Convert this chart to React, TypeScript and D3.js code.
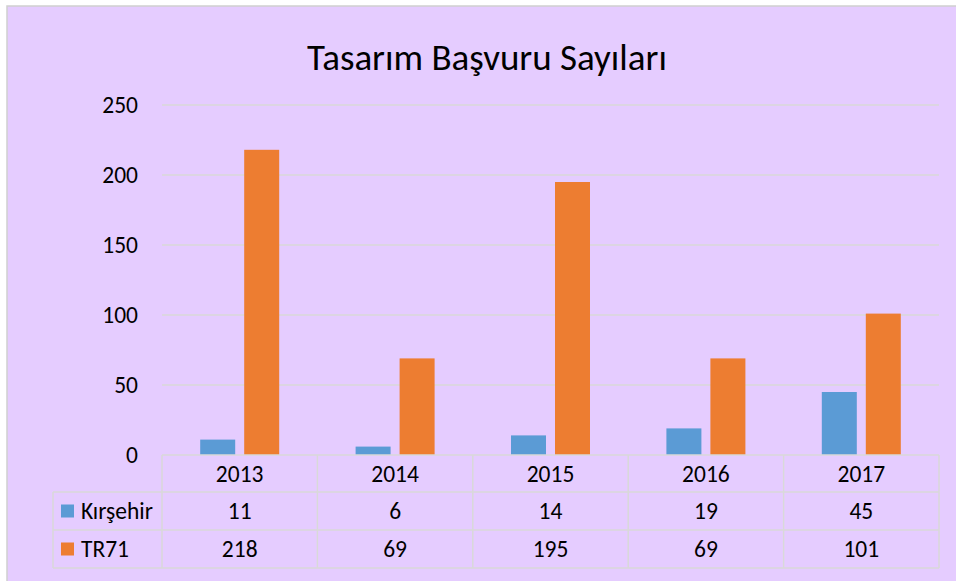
import React from "react";
import * as d3 from "d3";

const years = ["2013", "2014", "2015", "2016", "2017"];
const seriesNames = ["Kırşehir", "TR71"];
const kirsehir = [11, 6, 14, 19, 45];
const tr71 = [218, 69, 195, 69, 101];
const yTicks = [0, 50, 100, 150, 200, 250];
const colors = ["#5B9BD5", "#ED7D31"];

const W = 956;
const H = 581;
const FONT = "Carlito, Calibri, Lato, sans-serif";
const FS = 23.5;

export default function App() {
  const values = [kirsehir, tr71];

  const x = d3.scaleBand().domain(years).range([162, 939]).padding(0);
  const y = d3.scaleLinear().domain([0, 250]).range([455, 105]);
  const bw = x.bandwidth();
  const inner = d3
    .scaleBand()
    .domain(seriesNames)
    .range([(bw - 79) / 2, (bw + 79) / 2])
    .paddingInner(9 / 44)
    .paddingOuter(0);

  const rowY = [455, 492, 530, 568];
  const gridColor = "#D9D9D9";

  return (
    <svg width={W} height={H} style={{ position: "absolute", left: 0, top: 0, display: "block" }} fontFamily={FONT}>
      <rect x={0} y={0} width={W} height={H} fill="#fff" />
      <rect x={7} y={6} width={W} height={H} fill="#E5CCFF" stroke="#D0D0D0" strokeWidth={1.5} />

      <text x={487} y={70} textAnchor="middle" fontSize={37} fill="#000">
        Tasarım Başvuru Sayıları
      </text>

      {/* gridlines + y labels */}
      {yTicks.map((t) => (
        <g key={t}>
          {t > 0 && <line x1={162} x2={939} y1={y(t)} y2={y(t)} stroke={gridColor} strokeWidth={1.5} />}
          <text x={138} y={y(t)} dy="0.35em" textAnchor="end" fontSize={FS} fill="#000">
            {t}
          </text>
        </g>
      ))}

      {/* bars */}
      {years.map((yr, i) => (
        <g key={yr} transform={`translate(${x(yr)},0)`}>
          {seriesNames.map((s, j) => (
            <rect
              key={s}
              x={inner(s)}
              width={inner.bandwidth()}
              y={y(values[j][i])}
              height={y(0) - y(values[j][i])}
              fill={colors[j]}
            />
          ))}
        </g>
      ))}

      {/* data table */}
      <g stroke={gridColor} strokeWidth={1.5}>
        <line x1={162} x2={939} y1={rowY[0]} y2={rowY[0]} />
        {rowY.slice(1).map((ry) => (
          <line key={ry} x1={53} x2={939} y1={ry} y2={ry} />
        ))}
        <line x1={53} x2={53} y1={rowY[1]} y2={rowY[3]} />
        {years.map((yr) => (
          <line key={yr} x1={x(yr)} x2={x(yr)} y1={rowY[0]} y2={rowY[3]} />
        ))}
        <line x1={939} x2={939} y1={rowY[0]} y2={rowY[3]} />
      </g>

      {years.map((yr) => (
        <text
          key={yr}
          x={x(yr) + bw / 2}
          y={(rowY[0] + rowY[1]) / 2}
          dy="0.35em"
          textAnchor="middle"
          fontSize={FS}
        >
          {yr}
        </text>
      ))}

      {seriesNames.map((s, j) => {
        const cy = (rowY[j + 1] + rowY[j + 2]) / 2;
        return (
          <g key={s}>
            <rect x={61} y={cy - 6.5} width={13} height={13} fill={colors[j]} />
            <text x={81} y={cy} dy="0.35em" fontSize={FS}>
              {s}
            </text>
            {years.map((yr, i) => (
              <text key={yr} x={x(yr) + bw / 2} y={cy} dy="0.35em" textAnchor="middle" fontSize={FS}>
                {values[j][i]}
              </text>
            ))}
          </g>
        );
      })}
    </svg>
  );
}
